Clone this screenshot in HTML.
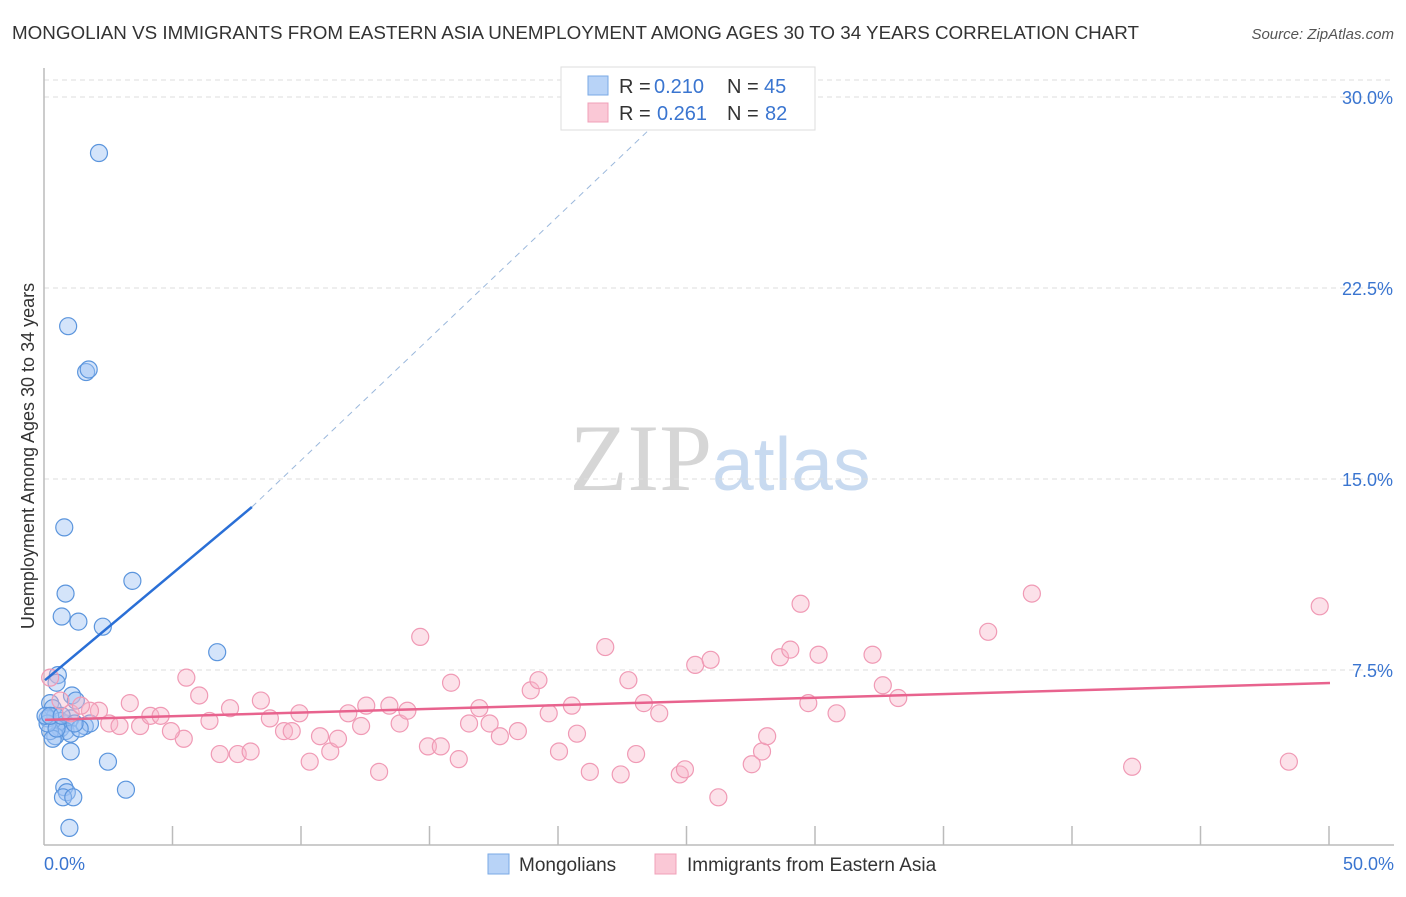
<!DOCTYPE html>
<html><head><meta charset="utf-8"><style>
body{margin:0;background:#fff;font-family:"Liberation Sans",sans-serif}
</style></head><body>
<svg width="1406" height="892" xmlns="http://www.w3.org/2000/svg" font-family="Liberation Sans, sans-serif">
<text x="12" y="39" font-size="18" fill="#333" textLength="1127" lengthAdjust="spacingAndGlyphs">MONGOLIAN VS IMMIGRANTS FROM EASTERN ASIA UNEMPLOYMENT AMONG AGES 30 TO 34 YEARS CORRELATION CHART</text>
<text x="1394" y="39" font-size="15" fill="#555" text-anchor="end" font-style="italic">Source: ZipAtlas.com</text>
<text x="720" y="490" font-size="95" text-anchor="middle" font-family="Liberation Serif, serif" fill="#ddd"><tspan fill="#d6d6d6">ZIP</tspan><tspan fill="#c8daf0" font-family="Liberation Sans, sans-serif" font-size="75">atlas</tspan></text>
<g id="grid"></g>
<g id="axes"></g>
<g id="marks"></g>
<text transform="translate(34,456) rotate(-90)" font-size="18" fill="#333" text-anchor="middle">Unemployment Among Ages 30 to 34 years</text>
<text x="44" y="870" font-size="18" fill="#3a75d0">0.0%</text>
<text x="1394" y="870" font-size="18" fill="#3a75d0" text-anchor="end">50.0%</text>
<g>
<rect x="561" y="67" width="254" height="63" fill="#fff" stroke="#ddd"/>
<rect x="588" y="76" width="20" height="19" fill="#b8d3f7" stroke="#7aaae6"/>
<rect x="588" y="103" width="20" height="19" fill="#fac8d6" stroke="#f0a0b8"/>
<text x="619" y="93" font-size="20" fill="#333">R =</text>
<text x="654" y="93" font-size="20" fill="#3a75d0">0.210</text>
<text x="727" y="93" font-size="20" fill="#333">N =</text>
<text x="764" y="93" font-size="20" fill="#3a75d0">45</text>
<text x="619" y="120" font-size="20" fill="#333">R =</text>
<text x="657" y="120" font-size="20" fill="#3a75d0">0.261</text>
<text x="727" y="120" font-size="20" fill="#333">N =</text>
<text x="765" y="120" font-size="20" fill="#3a75d0">82</text>
</g>
<g>
<rect x="488" y="854" width="21" height="20" fill="#b8d3f7" stroke="#7aaae6"/>
<text x="519" y="871" font-size="19" fill="#333">Mongolians</text>
<rect x="655" y="854" width="21" height="20" fill="#fac8d6" stroke="#f0a0b8"/>
<text x="687" y="871" font-size="19" fill="#333">Immigrants from Eastern Asia</text>
</g>
</svg>
<script>
const yTicks=[7.5,15.0,22.5,30.0];
const yTickLabels=["7.5%","15.0%","22.5%","30.0%"];
const xTicks=[0,5,10,15,20,25,30,35,40,45,50];
const blueX=[2.1,0.9,1.6,1.7,0.75,0.8,0.65,1.3,2.25,3.4,6.7,0.5,0.45,1.05,1.2,0.2,0.3,0.4,0.1,0.6,0.8,1.0,1.55,1.75,0.6,0.8,0.4,1.0,0.2,0.3,1.0,2.45,0.75,0.85,0.7,1.1,3.15,0.95,0.1,0.45,1.35,0.02,0.2,0.65,1.15];
const blueY=[27.8,21.0,19.2,19.3,13.1,10.5,9.6,9.4,9.2,11.0,8.2,7.3,7.0,6.5,6.3,6.2,6.0,5.7,5.6,5.5,5.4,5.6,5.3,5.4,5.2,5.1,4.9,5.0,5.1,4.8,4.3,3.9,2.9,2.7,2.5,2.5,2.8,1.3,5.4,5.2,5.2,5.7,5.7,5.7,5.4];
const pinkX=[5.5,3.3,6.0,7.2,8.4,6.4,5.4,4.9,3.7,4.1,4.5,2.5,2.9,2.1,1.75,1.0,1.4,0.6,0.2,6.8,7.5,8.0,8.75,9.3,9.6,9.9,10.3,10.7,11.1,11.4,11.8,12.3,12.5,13.0,13.4,13.8,14.1,14.6,14.9,15.4,15.8,16.1,16.5,16.9,17.3,17.7,18.4,18.9,19.2,19.6,20.0,20.5,20.7,21.2,21.8,22.4,22.7,23.0,23.3,23.9,24.7,24.9,25.3,25.9,26.2,27.5,27.9,28.1,28.6,29.0,29.4,29.7,30.1,30.8,32.2,32.6,33.2,36.7,38.4,42.3,48.4,49.6];
const pinkY=[7.2,6.2,6.5,6.0,6.3,5.5,4.8,5.1,5.3,5.7,5.7,5.4,5.3,5.9,5.9,5.8,6.1,6.3,7.2,4.2,4.2,4.3,5.6,5.1,5.1,5.8,3.9,4.9,4.3,4.8,5.8,5.3,6.1,3.5,6.1,5.4,5.9,8.8,4.5,4.5,7.0,4.0,5.4,6.0,5.4,4.9,5.1,6.7,7.1,5.8,4.3,6.1,5.0,3.5,8.4,3.4,7.1,4.2,6.2,5.8,3.4,3.6,7.7,7.9,2.5,3.8,4.3,4.9,8.0,8.3,10.1,6.2,8.1,5.8,8.1,6.9,6.4,9.0,10.5,3.7,3.9,10.0];
const blueLine=[[0,7.1],[8.05,13.9]];
const blueDash=[[8.05,13.9],[23.7,28.9]];
const pinkLine=[[0,5.54],[50,6.99]];
const sx=v=>45+v/50*1285;
const sy=v=>861-v/7.5*191;
const NS="http://www.w3.org/2000/svg";
function mk(parent,tag,attrs){const e=document.createElementNS(NS,tag);for(const k in attrs)e.setAttribute(k,attrs[k]);document.getElementById(parent).appendChild(e);return e;}
yTicks.forEach((t,i)=>{
 const g=mk('grid','line',{x1:44,x2:1394,y1:sy(t),y2:sy(t),stroke:'#ddd','stroke-dasharray':'5,4'});
 
 
 const l=mk('grid','text',{x:1393,y:sy(t)+7,'font-size':18,fill:'#3a75d0','text-anchor':'end'});
 l.textContent=yTickLabels[i];
 
 
});
const topGrid=mk('grid','line',{x1:44,x2:1394,y1:80,y2:80,stroke:'#ddd','stroke-dasharray':'5,4'});


const ya=mk('axes','line',{x1:44,x2:44,y1:68,y2:845,stroke:'#bbb','stroke-width':1.5});


const xa=mk('axes','line',{x1:44,x2:1394,y1:845,y2:845,stroke:'#bbb','stroke-width':1.5});


xTicks.forEach(t=>{if(t===0)return;
 const k=mk('axes','line',{x1:sx(t)-1,x2:sx(t)-1,y1:826,y2:845,stroke:'#bbb','stroke-width':1.5});
 
 
});
blueX.forEach((x,i)=>{
 const c=mk('marks','circle',{cx:sx(x),cy:sy(blueY[i]),r:8.5,fill:'rgba(160,195,245,0.45)',stroke:'#5b95dd','stroke-width':1.2});
 
 
});
pinkX.forEach((x,i)=>{
 const c=mk('marks','circle',{cx:sx(x),cy:sy(pinkY[i]),r:8.5,fill:'rgba(248,180,200,0.4)',stroke:'#f09ab5','stroke-width':1.2});
 
 
});
const bd=mk('marks','line',{x1:sx(blueDash[0][0]),y1:sy(blueDash[0][1]),x2:sx(blueDash[1][0]),y2:sy(blueDash[1][1]),stroke:'#9bb8dc','stroke-width':1,'stroke-dasharray':'6,5'});


const bl=mk('marks','line',{x1:sx(blueLine[0][0]),y1:sy(blueLine[0][1]),x2:sx(blueLine[1][0]),y2:sy(blueLine[1][1]),stroke:'#2a6fd6','stroke-width':2.5});


const pl=mk('marks','line',{x1:sx(pinkLine[0][0]),y1:sy(pinkLine[0][1]),x2:sx(pinkLine[1][0]),y2:sy(pinkLine[1][1]),stroke:'#e8638e','stroke-width':2.5});


</script>
</body></html>
